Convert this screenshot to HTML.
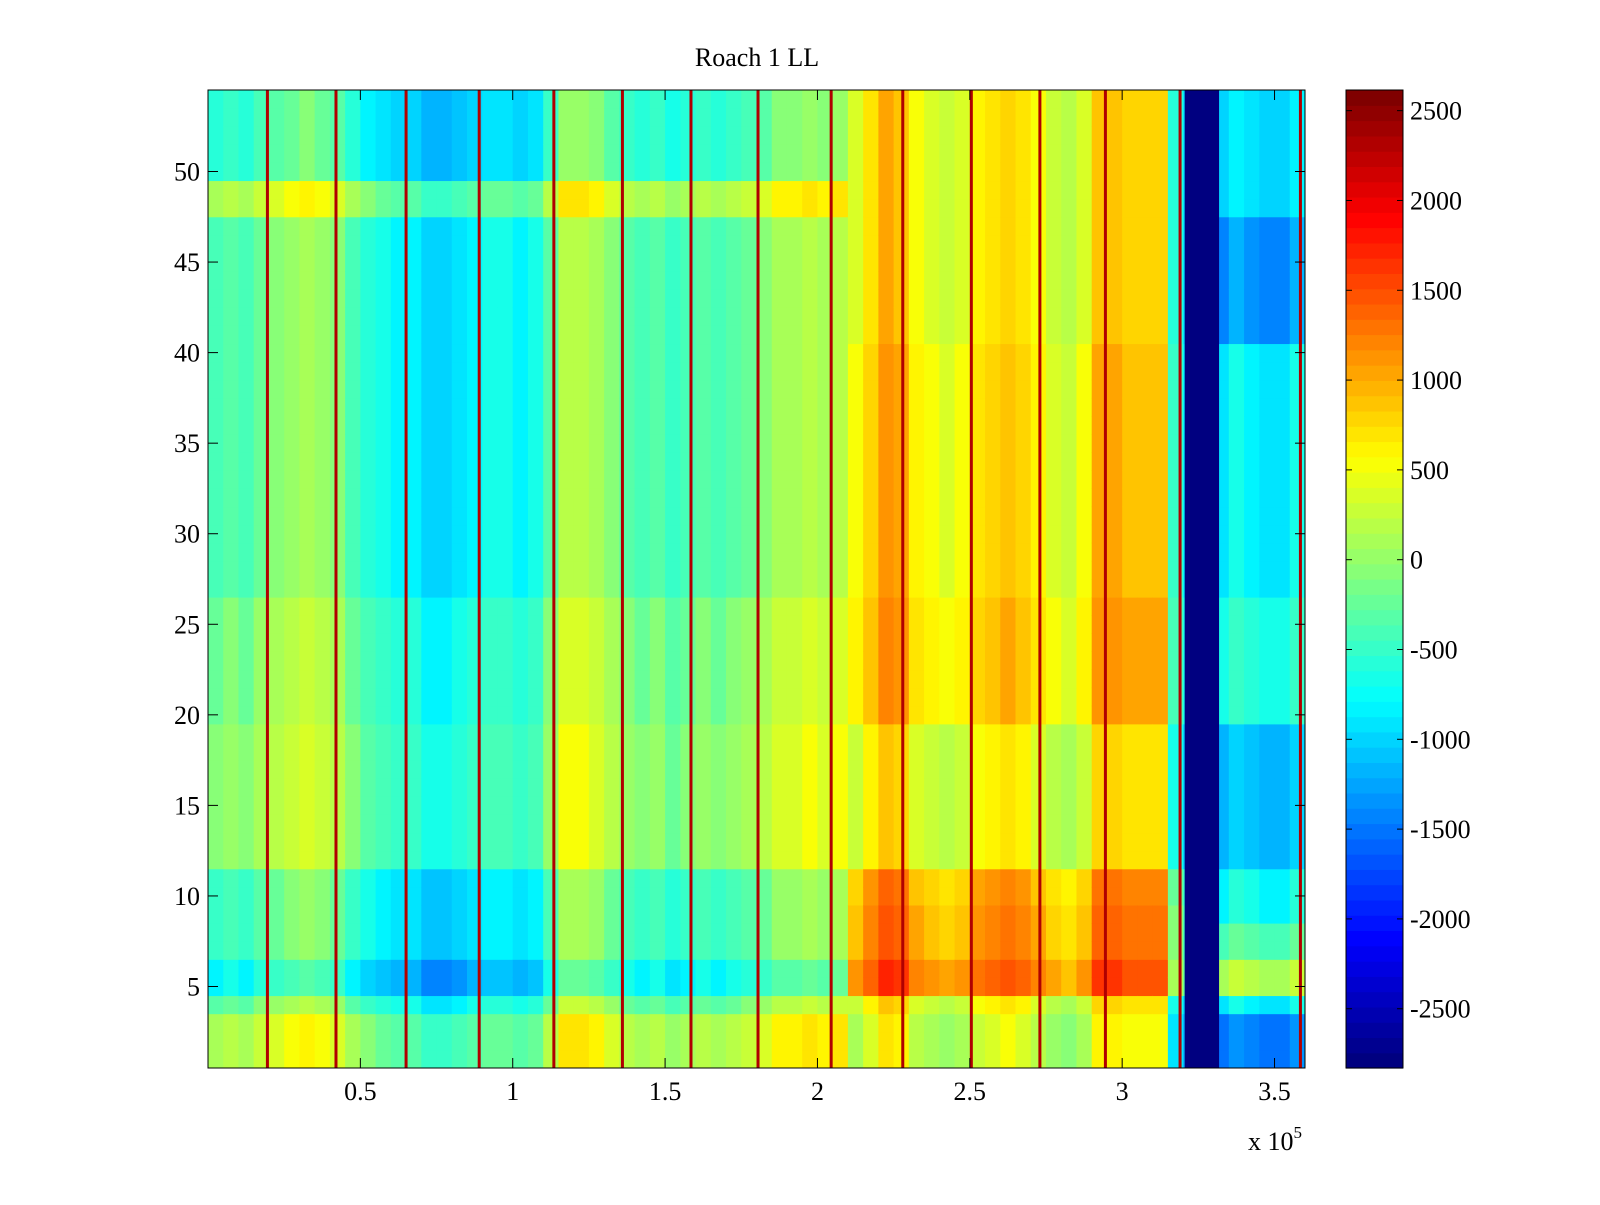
<!DOCTYPE html>
<html><head><meta charset="utf-8"><style>
body{margin:0;background:#fff;}
svg text{font-family:"Liberation Serif",serif;font-size:26px;fill:#000;}
</style></head><body>
<svg id="s" width="1600" height="1200" xmlns="http://www.w3.org/2000/svg">
<rect width="1600" height="1200" fill="#fff"/>
<text x="757" y="66" text-anchor="middle">Roach 1 LL</text>
<g id="cells"></g>
<g id="cb"></g>
<g id="ax"></g>
</svg>
<script>
// x bins (units of 1e5), width 0.05, starting at 0
const binStart = 0, binWidth = 0.05;
const colBase = [-300,-200,-300,-100,0,100,200,100,0,-300,-500,-600,-700,-700,-900,-900,-800,-700,-600,-600,-700,-600,-200,300,300,200,0,-200,-300,-200,-400,-300,-200,-300,-200,-100,0,200,200,300,200,300,400,700,1000,900,500,400,300,400,600,700,800,700,500,300,200,400,900,900,800,800,800,-600,-900,-900,-900,-700,-800,-900,-900,-700];
const rowOffLeft = [400,400,400,0,-500,-500,-200,-200,-200,-200,-200,200,200,200,200,200,200,200,200,100,100,100,100,100,100,100,-100,-100,-100,-100,-100,-100,-100,-100,-100,-100,-100,-100,-100,-100,-100,-100,-100,-100,-100,-100,-100,400,400,-300,-300,-300,-300,-300];
const rowOffRight = [-300,-300,-300,-100,700,700,500,500,500,400,400,-100,-100,-100,-100,-100,-100,-100,-100,200,200,200,200,200,200,200,100,100,100,100,100,100,100,100,100,100,100,100,100,100,0,0,0,0,0,0,0,0,0,0,0,0,0,0];
const rowOffFar = [-600,-600,-600,0,1000,1000,500,500,100,100,100,-300,-300,-300,-300,-300,-300,-300,-300,200,200,200,200,200,200,200,0,0,0,0,0,0,0,0,0,0,0,0,0,0,-500,-500,-500,-500,-500,-500,-500,-100,-100,-100,-100,-100,-100,-100];
const redLines = [0.195,0.42,0.65,0.89,1.135,1.36,1.585,1.805,2.045,2.28,2.505,2.73,2.945,3.19,3.585];
const band = [3.205,3.318];
const bandValue = -2830;
const xTicks = [0.5,1,1.5,2,2.5,3,3.5];
const xTickLabels = ["0.5","1","1.5","2","2.5","3","3.5"];
const yTicks = [5,10,15,20,25,30,35,40,45,50];
const cTicks = [-2500,-2000,-1500,-1000,-500,0,500,1000,1500,2000,2500];
const cMin = -2830, cMax = 2615;

const L=208,R=1305,T=90,B=1068;
const xMin=0,xMax=3.6,yMin=0.5,yMax=54.5;
const sx=v=>L+(v-xMin)/(xMax-xMin)*(R-L);
const sy=v=>B-(v-yMin)/(yMax-yMin)*(B-T);
const CT=90,CB=1068,CL=1346,CR=1403;
const sc=v=>CB-(v-cMin)/(cMax-cMin)*(CB-CT);
function jet(t){t=Math.max(0,Math.min(1,t));
 const f=x=>Math.round(255*Math.max(0,Math.min(1,x)));
 return `rgb(${f(1.5-Math.abs(4*t-3))},${f(1.5-Math.abs(4*t-2))},${f(1.5-Math.abs(4*t-1))})`;}
const q=v=>{let t=(v-cMin)/(cMax-cMin);t=Math.floor(t*64)/63;return jet(t);};
const NS="http://www.w3.org/2000/svg";
function mk(tag,at,parent){const e=document.createElementNS(NS,tag);for(const k in at)e.setAttribute(k,at[k]);parent.appendChild(e);return e;}
const cells=document.getElementById('cells');
colBase.forEach((b,i)=>{
  const x0=binStart+i*binWidth,x1=Math.min(x0+binWidth,xMax);
  const xa=Math.max(sx(x0),L),xb=Math.min(sx(x1),R);
  const off=x0<2.1?rowOffLeft:(x0<3.3?rowOffRight:rowOffFar);
  for(let r=1;r<=54;r++){
    const c=mk('rect',{x:xa,y:sy(r+0.5),width:xb-xa+0.5,height:sy(r-0.5)-sy(r+0.5)+0.5,fill:q(b+off[r-1])},cells);
    
    
  }
});
const bd=mk('rect',{x:sx(band[0]),y:T,width:sx(band[1])-sx(band[0]),height:B-T,fill:q(bandValue)},cells);


redLines.forEach(v=>{
  const l=mk('rect',{x:sx(v)-1.5,y:T,width:3,height:B-T,fill:'#b00000'},cells);
  
  
});
const ax=document.getElementById('ax');
mk('rect',{x:L,y:T,width:R-L,height:B-T,fill:'none',stroke:'#000','stroke-width':1},ax);
xTicks.forEach((v,i)=>{const x=sx(v);
  mk('line',{x1:x,x2:x,y1:B,y2:B-10,stroke:'#000'},ax);mk('line',{x1:x,x2:x,y1:T,y2:T+10,stroke:'#000'},ax);
  const t=mk('text',{x:x,y:B+32,'text-anchor':'middle'},ax);t.textContent=xTickLabels[i];
  
  
});
yTicks.forEach(v=>{const y=sy(v);
  mk('line',{x1:L,x2:L+10,y1:y,y2:y,stroke:'#000'},ax);mk('line',{x1:R,x2:R-10,y1:y,y2:y,stroke:'#000'},ax);
  const t=mk('text',{x:L-8,y:y+9,'text-anchor':'end'},ax);t.textContent=v;
  
  
});
const ex=mk('text',{x:1248,y:1150},ax);ex.innerHTML='x 10<tspan dy="-12" font-size="17">5</tspan>';


const cb=document.getElementById('cb');
for(let i=0;i<64;i++){const h=(CB-CT)/64;
  mk('rect',{x:CL,y:CB-(i+1)*h,width:CR-CL,height:h+0.6,fill:jet(i/63)},cb);}
mk('rect',{x:CL,y:CT,width:CR-CL,height:CB-CT,fill:'none',stroke:'#000'},cb);
cTicks.forEach(v=>{const y=sc(v);
  mk('line',{x1:CL,x2:CL+6,y1:y,y2:y,stroke:'#000'},cb);mk('line',{x1:CR,x2:CR-6,y1:y,y2:y,stroke:'#000'},cb);
  const t=mk('text',{x:CR+7,y:y+9},cb);t.textContent=v;
  
  
});
</script>
</body></html>
